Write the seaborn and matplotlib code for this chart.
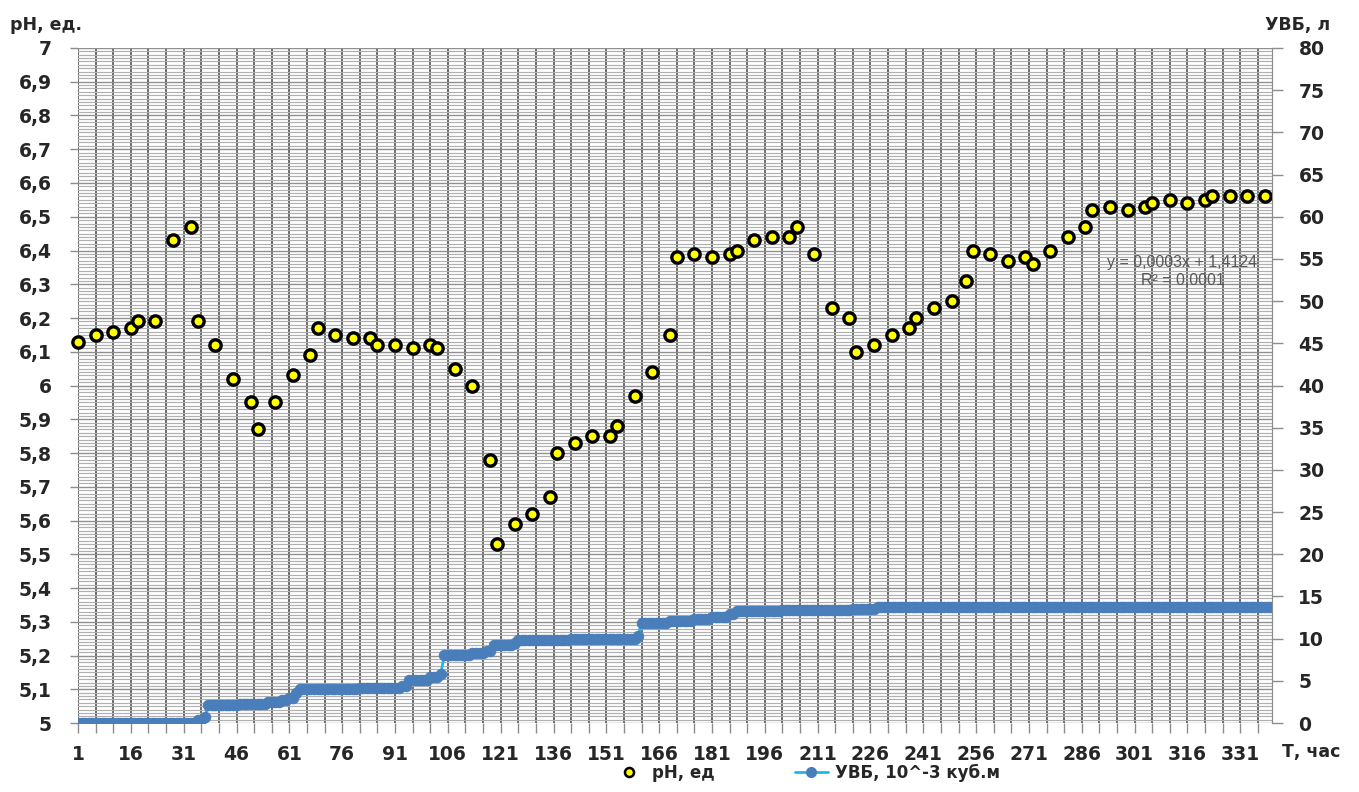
import numpy as np
import pandas as pd
import matplotlib
matplotlib.use("Agg")
import matplotlib.pyplot as plt
import seaborn as sns
from matplotlib.lines import Line2D

# pH measurements: hour of the measurement and value
ph_hours = [1, 6, 11, 16, 18, 23, 28, 33, 35, 40, 45, 50, 52, 57, 62, 67, 69, 74, 79, 84,
            86, 91, 96, 101, 103, 108, 113, 118, 120, 125, 130, 135, 137, 142, 147, 152, 154, 159, 164, 169,
            171, 176, 181, 186, 188, 193, 198, 203, 205, 210, 215, 220, 222, 227, 232, 237, 239, 244, 249, 253,
            255, 260, 265, 270, 272, 277, 282, 287, 289, 294, 299, 304, 306, 311, 316, 321, 323, 328, 333, 338]
ph_values = [6.13, 6.15, 6.16, 6.17, 6.19, 6.19, 6.43, 6.47, 6.19, 6.12, 6.02, 5.95, 5.87, 5.95, 6.03, 6.09, 6.17, 6.15, 6.14, 6.14,
             6.12, 6.12, 6.11, 6.12, 6.11, 6.05, 6.00, 5.78, 5.53, 5.59, 5.62, 5.67, 5.80, 5.83, 5.85, 5.85, 5.88, 5.97, 6.04, 6.15,
             6.38, 6.39, 6.38, 6.39, 6.40, 6.43, 6.44, 6.44, 6.47, 6.39, 6.23, 6.20, 6.10, 6.12, 6.15, 6.17, 6.20, 6.23, 6.25, 6.31,
             6.40, 6.39, 6.37, 6.38, 6.36, 6.40, 6.44, 6.47, 6.52, 6.53, 6.52, 6.53, 6.54, 6.55, 6.54, 6.55, 6.56, 6.56, 6.56, 6.56]

uvb_levels = [0.0, 0.3, 0.7, 2.1, 2.3, 2.5, 2.7, 3.0, 3.5, 4.0, 4.2, 4.4, 5.1, 5.4, 5.8, 8.1, 8.3, 8.5, 9.2, 9.5,
              9.8, 10.0, 10.3, 11.9, 12.1, 12.3, 12.6, 12.9, 13.3, 13.4, 13.5, 13.7, 13.8]
uvb_run_hours = [34, 2, 1, 9, 8, 4, 2, 2, 1, 17, 12, 2, 6, 3, 1, 8, 4, 2, 6, 1,
                 15, 19, 1, 8, 7, 5, 5, 2, 13, 20, 7, 7, 106]

x_tick_hours = list(range(1, 340, 15))
ph_ticks = [5.0, 5.1, 5.2, 5.3, 5.4, 5.5, 5.6, 5.7, 5.8, 5.9, 6.0, 6.1, 6.2, 6.3, 6.4, 6.5, 6.6, 6.7, 6.8, 6.9, 7.0]
ph_tick_labels = ['5', '5,1', '5,2', '5,3', '5,4', '5,5', '5,6', '5,7', '5,8', '5,9', '6',
                  '6,1', '6,2', '6,3', '6,4', '6,5', '6,6', '6,7', '6,8', '6,9', '7']
uvb_ticks = [0, 5, 10, 15, 20, 25, 30, 35, 40, 45, 50, 55, 60, 65, 70, 75, 80]

ph_df = pd.DataFrame({'hour': ph_hours, 'ph': ph_values})
uvb_df = pd.DataFrame({'hour': np.arange(1, sum(uvb_run_hours) + 1),
                       'uvb': np.repeat(uvb_levels, uvb_run_hours)})

sns.set_style("white")
plt.rcParams['font.family'] = ['DejaVu Sans']

fig = plt.figure(figsize=(13.59, 7.92), dpi=100)
ax = fig.add_axes([0.0574, 0.0871, 0.8786, 0.8523])
ax2 = ax.twinx()

# grid: vertical every 5 hours, horizontal every 0.01 pH
ax.set_xlim(1, 340)
ax.set_ylim(5, 7)
ax.set_xticks(x_tick_hours)
ax.set_xticks(list(range(1, 341, 5)), minor=True)
ax.set_yticks(ph_ticks)
ax.set_yticks(np.arange(5, 7.001, 0.01), minor=True)
ax.grid(True, axis='x', which='both', color='#5e5e5e', lw=1.3)
ax.grid(True, axis='y', which='minor', color='#b0b0b0', lw=0.85)
ax.grid(True, axis='y', which='major', color='#909090', lw=1.0)
ax.set_axisbelow(True)

sns.scatterplot(data=ph_df, x='hour', y='ph', ax=ax, s=66, color='#ffff00',
                edgecolor='black', linewidth=2.4, zorder=5, clip_on=False)

sns.lineplot(data=uvb_df, x='hour', y='uvb', ax=ax2, color='#1fb5f0', lw=2,
             marker='o', markersize=7.5, markerfacecolor='#4a7ebb', markeredgecolor='#4a7ebb')
ax2.set_ylim(0, 80)
ax2.set_yticks(uvb_ticks)

tick_font = dict(fontsize=13.5, fontweight='bold')
ax.set_xticklabels([str(h) for h in x_tick_hours], **tick_font)
ax.set_yticklabels(ph_tick_labels, **tick_font)
ax2.set_yticklabels([str(v) for v in uvb_ticks], **tick_font)
ax.tick_params(axis='x', which='both', length=7, width=1, color='#8c8c8c', pad=9, bottom=True)
ax.tick_params(axis='y', which='major', length=6, width=1, color='#8c8c8c', pad=13, left=True)
ax.tick_params(axis='y', which='minor', length=0)
ax2.tick_params(axis='y', length=8, width=1, color='#8c8c8c', pad=11, right=True)
ax.set_xlabel('')
ax.set_ylabel('')
ax2.set_xlabel('')
ax2.set_ylabel('')

for a in (ax, ax2):
    for side in ['top', 'left', 'bottom']:
        a.spines[side].set_visible(False)
    a.spines['right'].set_color('#8c8c8c')

fig.text(0.007, 0.968, 'pH, ед.', fontsize=12.5, fontweight='bold', va='center')
fig.text(0.931, 0.968, 'УВБ, л', fontsize=12.5, fontweight='bold', va='center')
fig.text(0.943, 0.05, 'Т, час', fontsize=12.5, fontweight='bold', va='center')

ax.text(0.925, 0.669, 'y = 0,0003x + 1,4124\nR² = 0,0001', transform=ax.transAxes,
        family='Liberation Sans', fontsize=11.5, color='#595959', ha='center', va='center',
        linespacing=1.3)

handles = [Line2D([], [], ls='none', marker='o', markersize=6.5, markerfacecolor='#ffff00',
                  markeredgecolor='black', markeredgewidth=1.8),
           Line2D([], [], color='#1fb5f0', lw=2, marker='o', markersize=7,
                  markerfacecolor='#4a7ebb', markeredgecolor='#4a7ebb')]
fig.legend(handles, ['pH, ед', 'УВБ, 10^-3 куб.м'], loc='center', bbox_to_anchor=(0.593, 0.024),
           ncol=2, frameon=False, prop={'weight': 'bold', 'size': 12}, columnspacing=4.8,
           handlelength=2.0, handletextpad=0.4)

fig.savefig('out.png', dpi=100)
